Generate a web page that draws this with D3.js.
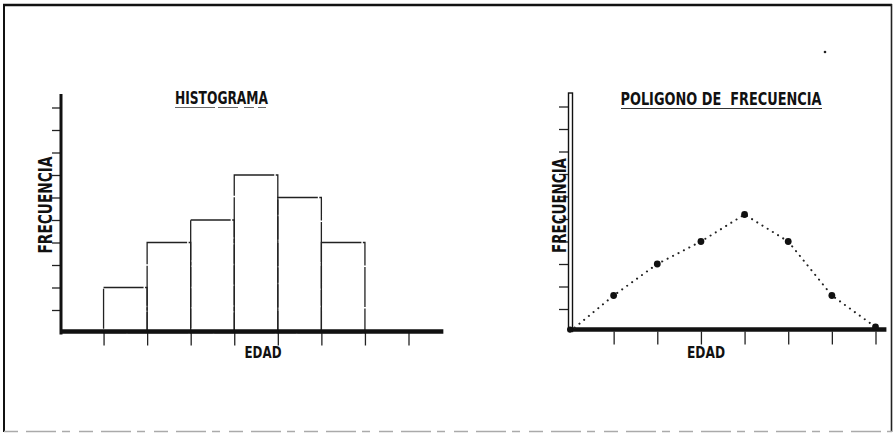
<!DOCTYPE html>
<html>
<head>
<meta charset="utf-8">
<script src="https://cdn.jsdelivr.net/npm/d3@7/dist/d3.min.js"></script>
<style>
  html, body { margin: 0; padding: 0; background: #fff; }
  svg { display: block; }
  text { font-family: "Liberation Sans Narrow", "DejaVu Sans Condensed", "Liberation Sans", sans-serif; font-weight: bold; fill: #111; }
</style>
</head>
<body>
<svg id="chart" width="894" height="433"></svg>
<script>
// ---- data ----
const histBins = [1, 2, 3, 4, 5, 6];          // bin start (in tick units along EDAD)
const histValues = [2, 4, 5, 7, 6, 4];         // FRECUENCIA
const polyX = [0, 1, 2, 3, 4, 5, 6, 7];        // EDAD positions
const polyValues = [0, 1.6, 3, 4, 5.2, 4, 1.6, 0.2];
const yTickValues = [1, 2, 3, 4, 5, 6, 7, 8, 9, 10];
const histXTicks = [1, 2, 3, 4, 5, 6, 7, 8];
const polyXTicks = [1, 2, 3, 4, 5, 6, 7];
const histTitle = "HISTOGRAMA";
const polyTitle = "POLIGONO DE  FRECUENCIA";
const yLabel = "FRECUENCIA";
const xLabel = "EDAD";

const svg = d3.select("#chart");

// ---- frame ----
const frame = svg.append("g");
frame.append("line").attr("x1", 3).attr("x2", 892).attr("y1", 5).attr("y2", 5)
  .attr("stroke", "#111").attr("stroke-width", 2.5);
frame.append("line").attr("x1", 4).attr("x2", 4).attr("y1", 4).attr("y2", 432)
  .attr("stroke", "#111").attr("stroke-width", 2);
frame.append("line").attr("x1", 891.5).attr("x2", 891.5).attr("y1", 4).attr("y2", 432)
  .attr("stroke", "#222").attr("stroke-width", 1.6);
frame.append("line").attr("x1", 4).attr("x2", 892).attr("y1", 431.5).attr("y2", 431.5)
  .attr("stroke", "#aaa").attr("stroke-width", 1.5).attr("stroke-dasharray", "14 8 30 6 8 9");
frame.append("circle").attr("cx", 825).attr("cy", 52).attr("r", 1.3).attr("fill", "#222");

// ---- HISTOGRAMA ----
{
  const x = d3.scaleLinear().domain([0, 8]).range([60, 408.5]);
  const y = d3.scaleLinear().domain([0, 10]).range([332.5, 107.5]);
  const g = svg.append("g");

  // bars
  g.selectAll("rect.bar").data(histBins).join("rect")
    .attr("class", "bar")
    .attr("x", d => x(d))
    .attr("width", d => x(d + 1) - x(d))
    .attr("y", (d, i) => y(histValues[i]))
    .attr("height", (d, i) => y(0) - y(histValues[i]))
    .attr("fill", "none")
    .attr("stroke", "#222")
    .attr("stroke-width", 1.3)
    .attr("stroke-dasharray", "40 1.5 25 1.5");

  // y ticks
  const ya = g.append("g").attr("transform", `translate(${x(0) + 1},0)`)
    .call(d3.axisLeft(y).tickValues(yTickValues).tickSize(9).tickFormat(""));
  ya.select(".domain").remove();
  ya.selectAll(".tick line").attr("stroke", "#222").attr("stroke-width", 1.3);

  // x ticks
  const xa = g.append("g").attr("transform", `translate(0,${y(0)})`)
    .call(d3.axisBottom(x).tickValues(histXTicks).tickSize(13).tickFormat(""));
  xa.select(".domain").remove();
  xa.selectAll(".tick line").attr("stroke", "#222").attr("stroke-width", 1.3);

  // axes lines
  g.append("line").attr("x1", x(0) + 1).attr("x2", x(0) + 1)
    .attr("y1", y(10.6)).attr("y2", y(0) + 2)
    .attr("stroke", "#111").attr("stroke-width", 3);
  g.append("line").attr("x1", x(0)).attr("x2", x(8.8))
    .attr("y1", y(0) - 1).attr("y2", y(0) - 1)
    .attr("stroke", "#111").attr("stroke-width", 4.5);

  // labels
  g.append("text").attr("x", 221.5).attr("y", 104.3)
    .attr("text-anchor", "middle").attr("font-size", 17)
    .attr("textLength", 93).attr("lengthAdjust", "spacingAndGlyphs")
    .text(histTitle);
  g.append("line").attr("x1", 175).attr("x2", 266).attr("y1", 107.5).attr("y2", 107.5)
    .attr("stroke", "#666").attr("stroke-width", 1.1).attr("stroke-dasharray", "40 3 20 6 10 4");
  g.append("text").attr("transform", "translate(52,205) rotate(-90)")
    .attr("text-anchor", "middle").attr("font-size", 19.5)
    .attr("textLength", 97).attr("lengthAdjust", "spacingAndGlyphs")
    .text(yLabel);
  g.append("text").attr("x", 263).attr("y", 358.3)
    .attr("text-anchor", "middle").attr("font-size", 16)
    .attr("textLength", 37).attr("lengthAdjust", "spacingAndGlyphs")
    .text(xLabel);
}

// ---- POLIGONO DE FRECUENCIA ----
{
  const x = d3.scaleLinear().domain([0, 7]).range([570, 875.5]);
  const y = d3.scaleLinear().domain([0, 10]).range([331.5, 106.5]);
  const g = svg.append("g");

  // y ticks
  const ya = g.append("g").attr("transform", `translate(${x(0) - 1},0)`)
    .call(d3.axisLeft(y).tickValues(yTickValues).tickSize(10).tickFormat(""));
  ya.select(".domain").remove();
  ya.selectAll(".tick line").attr("stroke", "#222").attr("stroke-width", 1.3);

  // x ticks
  const xa = g.append("g").attr("transform", `translate(0,${y(0)})`)
    .call(d3.axisBottom(x).tickValues(polyXTicks).tickSize(13).tickFormat(""));
  xa.select(".domain").remove();
  xa.selectAll(".tick line").attr("stroke", "#222").attr("stroke-width", 1.3);

  // y axis (double line)
  g.append("rect").attr("x", x(0) - 1.5).attr("y", y(10.6))
    .attr("width", 4).attr("height", y(0) - y(10.6))
    .attr("fill", "#fff").attr("stroke", "#111").attr("stroke-width", 1.4);

  // x axis
  g.append("line").attr("x1", x(0) - 2).attr("x2", x(7.25))
    .attr("y1", y(0) - 2).attr("y2", y(0) - 2)
    .attr("stroke", "#111").attr("stroke-width", 4.5);

  // polygon line (dotted)
  const line = d3.line().x((d, i) => x(polyX[i])).y(d => y(d));
  g.append("path").datum(polyValues)
    .attr("d", line)
    .attr("fill", "none")
    .attr("stroke", "#222")
    .attr("stroke-width", 2)
    .attr("stroke-linecap", "round")
    .attr("stroke-dasharray", "0.1 6");

  // points
  g.selectAll("circle.pt").data(polyValues.slice(1)).join("circle")
    .attr("class", "pt")
    .attr("cx", (d, i) => x(polyX[i + 1]))
    .attr("cy", d => y(d))
    .attr("r", 3.4)
    .attr("fill", "#111");
  g.append("circle").attr("cx", x(0)).attr("cy", y(0) - 2).attr("r", 3).attr("fill", "#111");

  // labels
  g.append("text").attr("x", 721).attr("y", 105)
    .attr("text-anchor", "middle").attr("font-size", 17)
    .attr("textLength", 201).attr("lengthAdjust", "spacingAndGlyphs")
    .style("white-space", "pre")
    .text(polyTitle);
  g.append("line").attr("x1", 621).attr("x2", 822).attr("y1", 108.5).attr("y2", 108.5)
    .attr("stroke", "#333").attr("stroke-width", 1.2);
  g.append("text").attr("transform", "translate(566,205.5) rotate(-90)")
    .attr("text-anchor", "middle").attr("font-size", 19.5)
    .attr("textLength", 95).attr("lengthAdjust", "spacingAndGlyphs")
    .text(yLabel);
  g.append("text").attr("x", 706).attr("y", 358.3)
    .attr("text-anchor", "middle").attr("font-size", 16)
    .attr("textLength", 38).attr("lengthAdjust", "spacingAndGlyphs")
    .text(xLabel);
}
</script>
</body>
</html>
